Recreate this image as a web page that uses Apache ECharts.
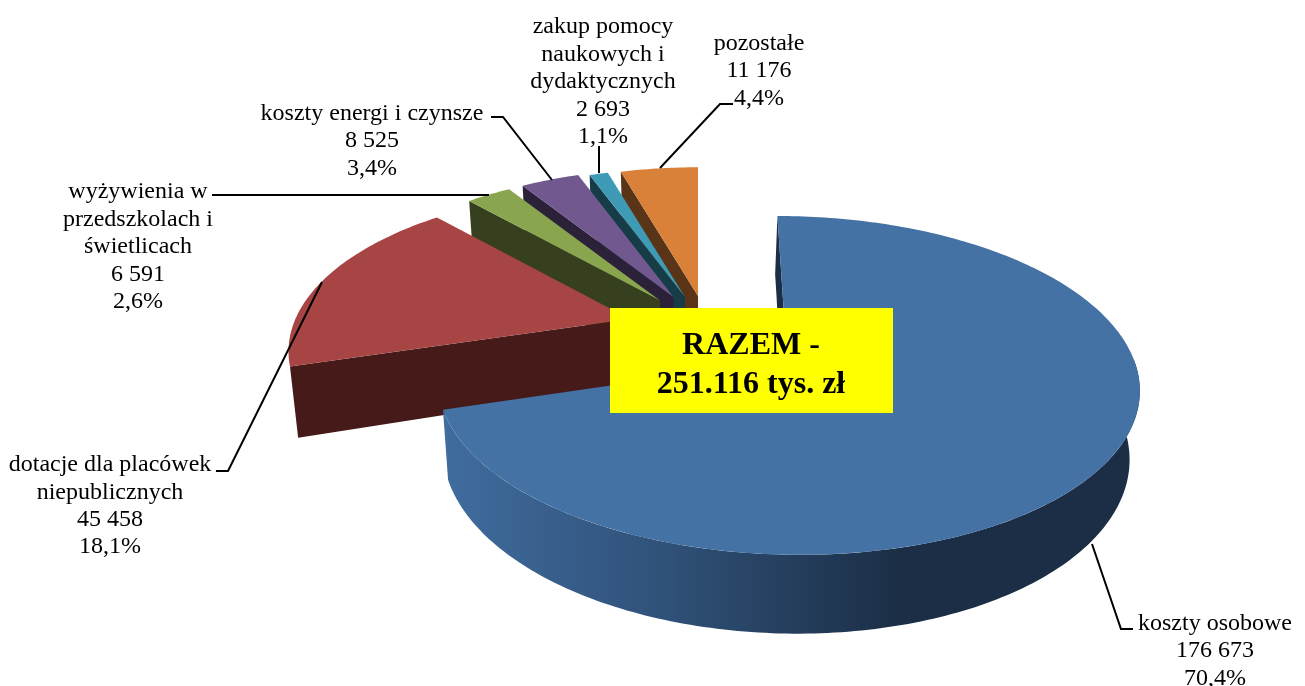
<!DOCTYPE html>
<html><head><meta charset="utf-8">
<style>html,body{margin:0;padding:0;background:#fff}#c{width:1305px;height:686px}</style>
<script src="https://cdn.jsdelivr.net/npm/echarts@6/dist/echarts.min.js"></script>
</head><body><div id="c"></div>
<script>
// ---- data ----
const categories = ['koszty osobowe','dotacje dla placówek\nniepublicznych','wyżywienia w\nprzedszkolach i\nświetlicach','koszty energi i czynsze','zakup pomocy\nnaukowych i\ndydaktycznych','pozostałe'];
const values = [176673,45458,6591,8525,2693,11176];
const valueLabels = ['176 673','45 458','6 591','8 525','2 693','11 176'];
const percentLabels = ['70,4%','18,1%','2,6%','3,4%','1,1%','4,4%'];
const totalLines = ['RAZEM -','251.116 tys. zł'];
// ---- styles / layout ----
const topColors  = ['#4472A5','#A64543','#89A54E','#71588F','#3F9AB5','#D98039'];
const wallColors = ['#1B2E45','#451A18','#37401E','#2B2139','#163C48','#5A3416'];
const explode = [ // per-slice exploded apex, projected radii, perspective
  {ax:787,ay:360,rx:347,ry:165.6,sh:11,k:0.15,dx:-2.5,b:0.978,outer:true},
  {ax:630,ay:319,rx:334.6,ry:156,sh:0,k:0.2,dx:0,b:0.976,outer:false},
  {ax:660,ay:300.5,rx:320,ry:148,sh:0,k:0.15,dx:0,b:0.978,outer:false},
  {ax:673.5,ay:297,rx:320,ry:148,sh:0,k:0.15,dx:0,b:0.978,outer:false},
  {ax:685,ay:297,rx:320,ry:148,sh:0,k:0.15,dx:0,b:0.978,outer:false},
  {ax:698,ay:296,rx:320,ry:148,sh:0,k:0.15,dx:0,b:0.978,outer:false}
];
const depth = 67;
const labelPos = [[1215,651],[110,506],[138,247],[372,141],[603,82],[759,71]];
const leaders = [
  [[1133,629],[1121,629],[1092,544]],
  [[216,471],[228,471],[322,282]],
  [[212,195],[489,195]],
  [[491,117],[503,117],[552,180]],
  [[599,146],[599,173]],
  [[733,104],[720,104],[660,168]]
];
const FONT = '"Liberation Serif","Times New Roman",serif';

const total = values.reduce((a,b)=>a+b,0);
const spans = []; values.reduce((acc,v,i)=>{const e=acc+v/total*360;spans[i]=[acc,e];return e;},0);

function topPt(i,deg){
  const L=explode[i], t=deg*Math.PI/180, u=Math.sin(t), v=-Math.cos(t), s=1/(1-L.k*v);
  return {x:L.ax+(L.rx*u+L.sh*v)*s, y:L.ay+L.ry*v*s, s};
}
function botPt(i,deg){
  const L=explode[i], p=topPt(i,deg);
  return [L.ax+(p.x-L.ax)*L.b+L.dx, p.y+depth*p.s];
}
function arcTop(i,a,b){const n=Math.max(4,Math.ceil(Math.abs(b-a)));const r=[];for(let k=0;k<=n;k++){const p=topPt(i,a+(b-a)*k/n);r.push([p.x,p.y]);}return r;}
function arcBot(i,a,b){const n=Math.max(4,Math.ceil(Math.abs(b-a)));const r=[];for(let k=0;k<=n;k++){r.push(botPt(i,a+(b-a)*k/n));}return r;}
function apexBot(i){const L=explode[i];return [L.ax+L.dx,L.ay+depth];}
function poly(points,fill,z2){return {type:'polygon',z2,shape:{points},style:{fill,stroke:null}};}

const blueGrad = {type:'linear',x:444,y:0,x2:900,y2:0,global:true,colorStops:[
  {offset:0,color:'#406C9E'},{offset:0.5,color:'#2F5077'},{offset:1,color:'#1B2E45'}]};

function renderSlice(params,api){
  const i=api.value(0), [a,b]=spans[i], L=explode[i], ch=[], base=i===0?60:(i===1?50:(7-i)*5);
  const wa=Math.max(a,90), wb=Math.min(b,270);
  if(L.outer && wb>wa){
    ch.push(poly(arcTop(i,wa,wb).concat(arcBot(i,wb,wa)), i===0?blueGrad:wallColors[i], base));
  }
  const pA=topPt(i,a);
  ch.push(poly([[pA.x,pA.y],[L.ax,L.ay],apexBot(i),botPt(i,a)],wallColors[i],base));
  ch.push(poly([[L.ax,L.ay]].concat(arcTop(i,a,b)),topColors[i],base+1));
  return {type:'group',children:ch};
}

const drawOrder=[5,4,3,2,1,0];
const rows=drawOrder.map(i=>[i,values[i]]);

const labelSeries={
  type:'custom',coordinateSystem:'none',silent:true,z:5,data:categories.map((c,i)=>[i]),
  renderItem(p,api){
    const i=api.value(0);
    return {type:'group',children:[
      {type:'polyline',shape:{points:leaders[i]},style:{stroke:'#000',lineWidth:2,fill:null}},
      {type:'text',style:{text:categories[i]+'\n'+valueLabels[i]+'\n'+percentLabels[i],x:labelPos[i][0],y:labelPos[i][1],
        align:'center',verticalAlign:'middle',font:'24px '+FONT,lineHeight:27.4,fill:'#000'}}
    ]};
  }
};

const chart=echarts.init(document.getElementById('c'),null,{renderer:'canvas'});
chart.setOption({
  animation:false,backgroundColor:'#fff',
  series:[{type:'custom',coordinateSystem:'none',silent:true,z:2,data:rows,encode:{value:1},renderItem:renderSlice},labelSeries],
  graphic:[
    {type:'rect',z:10,silent:true,shape:{x:610,y:308,width:283,height:105},style:{fill:'#FFFF00'}},
    {type:'text',z:11,silent:true,style:{text:totalLines.join('\n'),x:751,y:365,align:'center',verticalAlign:'middle',font:'bold 32px '+FONT,lineHeight:39,fill:'#000'}}
  ]
});
</script></body></html>
